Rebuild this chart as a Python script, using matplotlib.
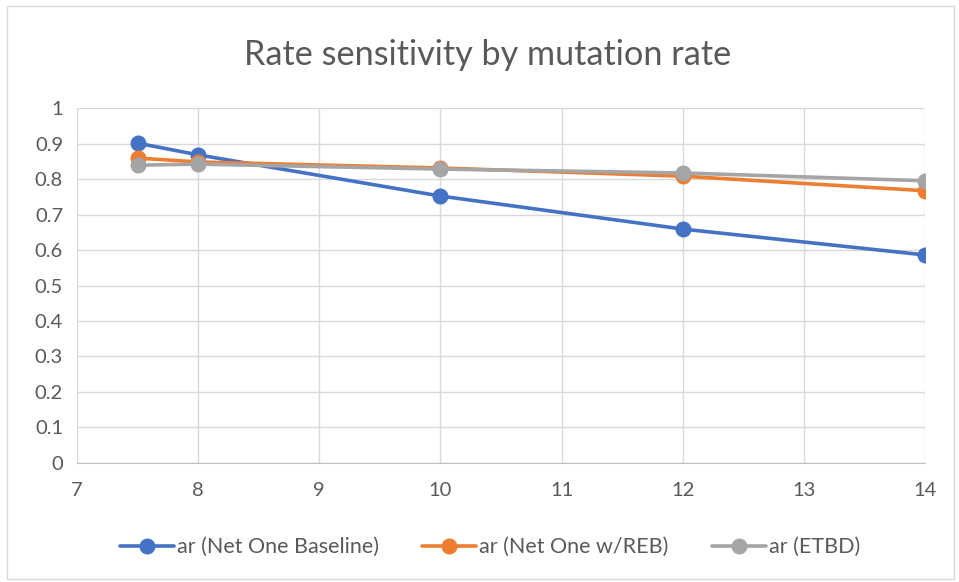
import matplotlib.pyplot as plt
from matplotlib.patches import Rectangle

plt.rcParams['font.family'] = ['Lato', 'DejaVu Sans']

mutation_rate = [7.5, 8, 10, 12, 14]
net_one_baseline = [0.901, 0.868, 0.752, 0.659, 0.586]
net_one_reb = [0.859, 0.848, 0.831, 0.808, 0.767]
etbd = [0.839, 0.842, 0.828, 0.817, 0.795]

series = [
    ('ar (Net One Baseline)', net_one_baseline, '#4472c4'),
    ('ar (Net One w/REB)', net_one_reb, '#ed7d31'),
    ('ar (ETBD)', etbd, '#a5a5a5'),
]

fig = plt.figure(figsize=(9.59, 5.82), dpi=100)
ax = fig.add_axes([0.0803, 0.2045, 0.8843, 0.6099])

# chart border
fig.patches.append(Rectangle((0.007, 0.005), 0.988, 0.985, transform=fig.transFigure,
                             fill=False, edgecolor='#d9d9d9', linewidth=1))

for label, values, color in series:
    ax.plot(mutation_rate, values, color=color, linewidth=2.6, marker='o',
            markersize=10.5, label=label, solid_capstyle='round')

ax.set_xlim(7, 14)
ax.set_ylim(0, 1)
ax.set_xticks(range(7, 15))
ax.set_yticks([i / 10 for i in range(11)])
ax.set_yticklabels(['0', '0.1', '0.2', '0.3', '0.4', '0.5', '0.6', '0.7', '0.8', '0.9', '1'])
ax.grid(True, color='#d9d9d9', linewidth=1)
ax.set_axisbelow(True)
for side in ['top', 'right', 'left']:
    ax.spines[side].set_visible(False)
ax.spines['bottom'].set_color('#bfbfbf')
ax.tick_params(axis='both', length=0, labelsize=14.5, labelcolor='#595959')
ax.tick_params(axis='x', pad=14)
ax.tick_params(axis='y', pad=10)

fig.text(0.508, 0.905, 'Rate sensitivity by mutation rate', ha='center', va='center',
         fontsize=24.7, color='#595959')

fig.legend(loc='center', bbox_to_anchor=(0.511, 0.06), ncol=3, frameon=False,
           fontsize=15.5, labelcolor='#595959', handlelength=2.5, columnspacing=2.0,
           handletextpad=0.15)

fig.savefig('out.png', dpi=100)
